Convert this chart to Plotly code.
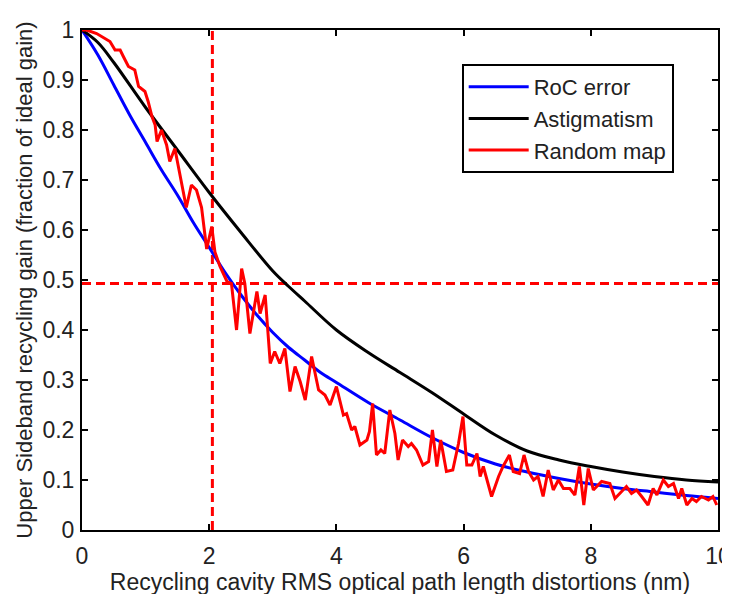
import plotly.graph_objects as go

# RoC error (blue)
roc_x = [0, 0.25, 0.5, 0.75, 1.0, 1.25, 1.5, 1.75, 2.0, 2.25, 2.5, 2.75, 3.0, 3.25, 3.5, 3.75, 4.0,
         4.5, 5.0, 5.5, 6.0, 6.5, 7.0, 7.5, 8.0, 8.5, 9.0, 9.5, 10.0]
roc_y = [1.0, 0.95, 0.89, 0.83, 0.775, 0.72, 0.67, 0.615, 0.565, 0.515, 0.47, 0.43, 0.395, 0.365,
         0.34, 0.315, 0.295, 0.255, 0.22, 0.185, 0.155, 0.132, 0.116, 0.103, 0.092, 0.083, 0.076,
         0.069, 0.063]

# Astigmatism (black)
ast_x = [0, 0.25, 0.5, 1.0, 1.5, 2.0, 2.5, 3.0, 3.25, 3.5, 4.0, 4.5, 5.0, 5.5, 6.0, 6.5, 7.0, 7.5,
         8.0, 8.5, 9.0, 9.5, 10.0]
ast_y = [1.0, 0.975, 0.935, 0.845, 0.76, 0.675, 0.595, 0.518, 0.487, 0.458, 0.40, 0.355, 0.315,
         0.275, 0.232, 0.19, 0.158, 0.14, 0.127, 0.116, 0.107, 0.100, 0.096]

# Random map (red)
rnd_x = [0.0, 0.07, 0.23, 0.44, 0.52, 0.6, 0.65, 0.73, 0.83, 0.89, 0.99, 1.04, 1.10, 1.15, 1.18,
         1.25, 1.33, 1.38, 1.46, 1.54, 1.64, 1.72, 1.80, 1.88, 1.96, 2.04, 2.09, 2.17, 2.28, 2.35,
         2.43, 2.51, 2.56, 2.64, 2.75, 2.80, 2.88, 2.96, 3.03, 3.11, 3.19, 3.27, 3.35, 3.43, 3.51,
         3.61, 3.72, 3.82, 3.90, 4.0, 4.11, 4.16, 4.24, 4.29, 4.37, 4.48, 4.52, 4.57, 4.63, 4.70,
         4.76, 4.84, 4.92, 4.97, 5.04, 5.13, 5.18, 5.26, 5.36, 5.45, 5.51, 5.58, 5.64, 5.73, 5.83,
         5.92, 5.99, 6.05, 6.13, 6.21, 6.26, 6.31, 6.44, 6.55, 6.62, 6.72, 6.78, 6.88, 6.95, 7.02,
         7.10, 7.17, 7.25, 7.33, 7.41, 7.49, 7.57, 7.67, 7.75, 7.82, 7.89, 7.96, 8.04, 8.17, 8.30,
         8.38, 8.49, 8.56, 8.64, 8.72, 8.80, 8.90, 8.98, 9.04, 9.14, 9.22, 9.30, 9.38, 9.43, 9.51,
         9.59, 9.66, 9.74, 9.85, 9.92, 9.98]
rnd_y = [1.0, 1.0, 0.993, 0.977, 0.96, 0.96, 0.947, 0.927, 0.92, 0.887, 0.877, 0.857, 0.827,
         0.81, 0.777, 0.80, 0.77, 0.737, 0.763, 0.71, 0.645, 0.69, 0.68, 0.645, 0.562, 0.607,
         0.556, 0.527, 0.497, 0.493, 0.40, 0.523, 0.493, 0.393, 0.477, 0.433, 0.47, 0.333, 0.357,
         0.333, 0.363, 0.277, 0.327, 0.297, 0.26, 0.347, 0.28, 0.27, 0.25, 0.287, 0.23, 0.233,
         0.20, 0.207, 0.17, 0.18, 0.197, 0.253, 0.15, 0.16, 0.153, 0.24, 0.193, 0.14, 0.18, 0.167,
         0.173, 0.16, 0.13, 0.137, 0.20, 0.127, 0.18, 0.117, 0.12, 0.173, 0.227, 0.13, 0.13, 0.153,
         0.107, 0.127, 0.067, 0.107, 0.127, 0.15, 0.117, 0.113, 0.15, 0.117, 0.10, 0.107, 0.067,
         0.12, 0.08, 0.10, 0.083, 0.083, 0.07, 0.127, 0.05, 0.123, 0.08, 0.097, 0.093, 0.063, 0.077,
         0.087, 0.073, 0.08, 0.067, 0.05, 0.083, 0.07, 0.10, 0.087, 0.093, 0.063, 0.083, 0.05,
         0.063, 0.057, 0.067, 0.06, 0.067, 0.05]

# Reference lines
vline_x = [2.05, 2.05]
vline_y = [0, 1]
hline_x = [0, 10]
hline_y = [0.493, 0.493]

x_ticks = [0, 2, 4, 6, 8, 10]
y_ticks = [0, 0.1, 0.2, 0.3, 0.4, 0.5, 0.6, 0.7, 0.8, 0.9, 1]
y_ticktext = ["0", "0.1", "0.2", "0.3", "0.4", "0.5", "0.6", "0.7", "0.8", "0.9", "1"]

FONT = "Liberation Sans, Arial, sans-serif"
TXT = "#222222"

fig = go.Figure()
fig.add_trace(go.Scatter(x=vline_x, y=vline_y, mode="lines", showlegend=False,
                         line=dict(color="#ff0000", width=3, dash="9px,5px"), hoverinfo="skip"))
fig.add_trace(go.Scatter(x=hline_x, y=hline_y, mode="lines", showlegend=False,
                         line=dict(color="#ff0000", width=3, dash="9px,5px"), hoverinfo="skip"))
fig.add_trace(go.Scatter(x=roc_x, y=roc_y, mode="lines", name="RoC error", line_shape="spline",
                         line=dict(color="#0000ff", width=3)))
fig.add_trace(go.Scatter(x=ast_x, y=ast_y, mode="lines", name="Astigmatism", line_shape="spline",
                         line=dict(color="#000000", width=3)))
fig.add_trace(go.Scatter(x=rnd_x, y=rnd_y, mode="lines", name="Random map",
                         line=dict(color="#ff0000", width=3)))

axis_common = dict(showline=True, linecolor="black", linewidth=2, mirror="ticks",
                   ticks="inside", ticklen=6, tickwidth=2, tickcolor="black",
                   showgrid=False, zeroline=False, automargin=False,
                   tickfont=dict(family=FONT, size=23, color=TXT))

fig.update_xaxes(range=[0, 10], tickvals=x_ticks, ticktext=[str(v) for v in x_ticks],
                 ticklabelstandoff=4,
                 title=dict(text="Recycling cavity RMS optical path length distortions (nm)",
                            font=dict(family=FONT, size=23, color=TXT), standoff=4),
                 **axis_common)
fig.update_yaxes(range=[0, 1], tickvals=y_ticks, ticktext=y_ticktext,
                 ticklabelstandoff=1,
                 title=dict(text="Upper Sideband recycling gain (fraction of ideal gain)",
                            font=dict(family=FONT, size=22, color=TXT), standoff=4),
                 **axis_common)

# page body adds an 8px offset, so margins are compensated
fig.update_layout(
    width=730, height=594,
    margin=dict(l=74, r=20, t=22, b=72),
    plot_bgcolor="white", paper_bgcolor="white",
    legend=dict(x=0.597, y=0.932, xanchor="left", yanchor="top",
                bgcolor="white", bordercolor="black", borderwidth=2,
                font=dict(family=FONT, size=22, color=TXT),
                itemwidth=60, tracegroupgap=0),
)

fig.write_html("out.html")
